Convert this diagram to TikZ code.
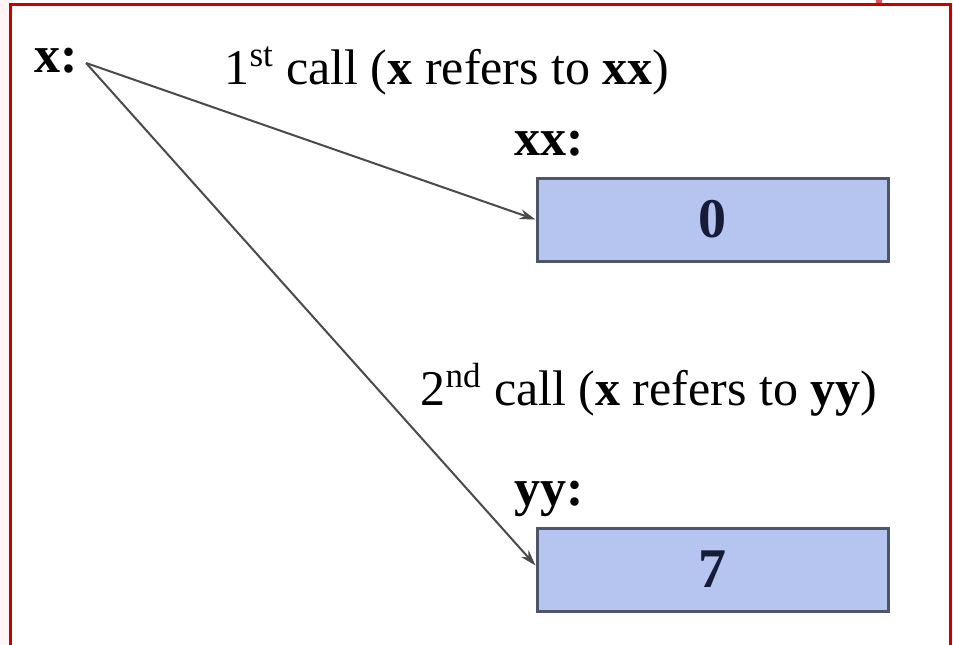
\documentclass[tikz,border=0pt]{standalone}
\usepackage{fontspec}
\setmainfont{Liberation Serif}
\usetikzlibrary{arrows.meta,positioning,calc}
\definecolor{frame}{HTML}{C80000}
\definecolor{cellblue}{HTML}{B6C4F0}
\definecolor{cellline}{HTML}{4E5568}
\definecolor{cellnum}{HTML}{161C38}
\definecolor{refgray}{HTML}{4A4A4A}

\begin{document}
\begin{tikzpicture}[x=0.5pt, y=-0.5pt,
    cell/.style={draw=cellline, fill=cellblue, line width=1.5pt, minimum width=175.5pt,
                 minimum height=41.5pt, inner sep=0pt, text=cellnum,
                 font=\fontsize{28}{32}\selectfont\bfseries},
    var/.style={inner sep=1pt, font=\fontsize{26}{31}\selectfont\bfseries},
    lbl/.style={inner sep=0pt, font=\fontsize{25}{30}\selectfont},
    ref/.style={draw=refgray, line width=1pt, -{Stealth[length=8pt,width=5pt]}}]
                    % page and frame
                    \useasboundingbox (0,0) rectangle (953,644);
                    \fill[red!4] (0,0) rectangle (953,644);
                    \fill[white] (11,0) rectangle (949,644);
                    \draw[frame, line width=1.5pt] (10,660) -- (10,4) -- (950,4) -- (950,660);
                    \fill[frame!65] (876,0) rectangle (882,3);
                    % variables
                    \node[var] (x) at (56,61) {x:};
                    \coordinate (xout) at ([xshift=3pt,yshift=-1pt]x.east);
                    \node[var, anchor=base west] (xxname) at (512,155) {xx:};
                    \node[var, anchor=base west] (yyname) at (512,505) {yy:};
                    \node[cell] (xx) at (712.5,219.5) {0};
                    \node[cell] (yy) at (712.5,569.5) {7};
                    % calls
                    \node[lbl] (first) at (447,71) {1\textsuperscript{st} call (\textbf{x} refers to \textbf{xx})};
                    \node[lbl] (second) at (649,390) {2\textsuperscript{nd} call (\textbf{x} refers to \textbf{yy})};
                    \draw[ref] (xout) -- (xx.west);
                    \draw[ref] (xout) -- ([yshift=2pt]yy.west);
                \end{tikzpicture}
\end{document}
